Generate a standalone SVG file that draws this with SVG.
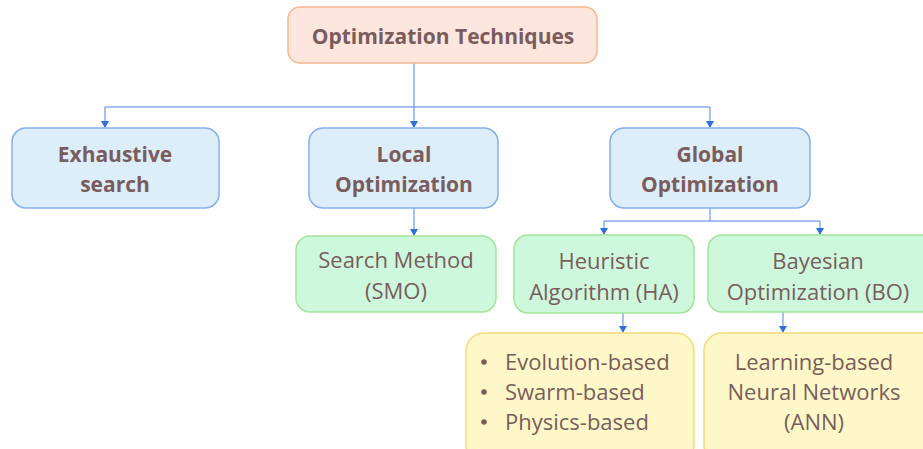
<svg xmlns="http://www.w3.org/2000/svg" width="923" height="449" viewBox="0 0 923 449">
<style>
text{font-family:"Open Sans","Noto Sans",sans-serif;fill:#7a5c5c;text-anchor:middle}
.b{font-weight:700;font-size:21px}
.r{font-size:22px}
.root{fill:#fde6dd;stroke:#f6b88c;stroke-width:1.5}
.blue{fill:#ddeefb;stroke:#84aef0;stroke-width:1.5}
.green{fill:#cef8dc;stroke:#a3e49a;stroke-width:1.5}
.yellow{fill:#fef8c8;stroke:#fbd77a;stroke-width:1.5}
.c{fill:none;stroke:#4c82e6;stroke-width:1}
</style>
<defs>
<marker id="ah" markerWidth="8" markerHeight="8" refX="6" refY="4" orient="auto" markerUnits="userSpaceOnUse">
<path d="M0,0 L7,4 L0,8 z" fill="#2f6fe0"/>
</marker>
</defs>
<rect width="923" height="449" fill="#fff"/>
<g id="connectors">
<path class="c" d="M414,63 V107"/>
<path class="c" d="M105,107 H710"/>
<path class="c" d="M105,107 V127" marker-end="url(#ah)"/>
<path class="c" d="M414,107 V127" marker-end="url(#ah)"/>
<path class="c" d="M710,107 V127" marker-end="url(#ah)"/>
<path class="c" d="M414,208 V235" marker-end="url(#ah)"/>
<path class="c" d="M710,208 V221 M604,221 H820"/>
<path class="c" d="M604,221 V234" marker-end="url(#ah)"/>
<path class="c" d="M820,221 V234" marker-end="url(#ah)"/>
<path class="c" d="M623,313 V332" marker-end="url(#ah)"/>
<path class="c" d="M783,312 V332" marker-end="url(#ah)"/>
</g>
<g id="root">
<rect class="root" x="288" y="7" width="309" height="56" rx="12"/>
<text class="b" x="443" y="44">Optimization Techniques</text>
</g>
<g id="exhaustive">
<rect class="blue" x="12" y="128" width="207" height="80" rx="14"/>
<text class="b" x="115" y="162">Exhaustive</text>
<text class="b" x="115" y="192">search</text>
</g>
<g id="local">
<rect class="blue" x="309" y="128" width="189" height="80" rx="14"/>
<text class="b" x="404" y="162">Local</text>
<text class="b" x="404" y="192">Optimization</text>
</g>
<g id="global">
<rect class="blue" x="610" y="128" width="200" height="80" rx="14"/>
<text class="b" x="710" y="162">Global</text>
<text class="b" x="710" y="192">Optimization</text>
</g>
<g id="search">
<rect class="green" x="296" y="236" width="200" height="76" rx="14"/>
<text class="r" x="396" y="268">Search Method</text>
<text class="r" x="396" y="299">(SMO)</text>
</g>
<g id="heuristic">
<rect class="green" x="514" y="235" width="180" height="78" rx="14"/>
<text class="r" x="604" y="269">Heuristic</text>
<text class="r" x="604" y="300">Algorithm (HA)</text>
</g>
<g id="bayesian">
<rect class="green" x="708" y="235" width="230" height="77" rx="14"/>
<text class="r" x="818" y="269">Bayesian</text>
<text class="r" x="818" y="300">Optimization (BO)</text>
</g>
<g id="ha-types">
<rect class="yellow" x="466" y="333" width="228" height="130" rx="18"/>
<circle cx="484" cy="362" r="2.8" fill="#7a5c5c"/>
<circle cx="484" cy="392" r="2.8" fill="#7a5c5c"/>
<circle cx="484" cy="422" r="2.8" fill="#7a5c5c"/>
<text class="r" x="505" y="370" style="text-anchor:start">Evolution-based</text>
<text class="r" x="505" y="400" style="text-anchor:start">Swarm-based</text>
<text class="r" x="505" y="430" style="text-anchor:start">Physics-based</text>
</g>
<g id="bo-types">
<rect class="yellow" x="704" y="333" width="240" height="130" rx="18"/>
<text class="r" x="814" y="370">Learning-based</text>
<text class="r" x="814" y="400">Neural Networks</text>
<text class="r" x="814" y="430">(ANN)</text>
</g>
</svg>
